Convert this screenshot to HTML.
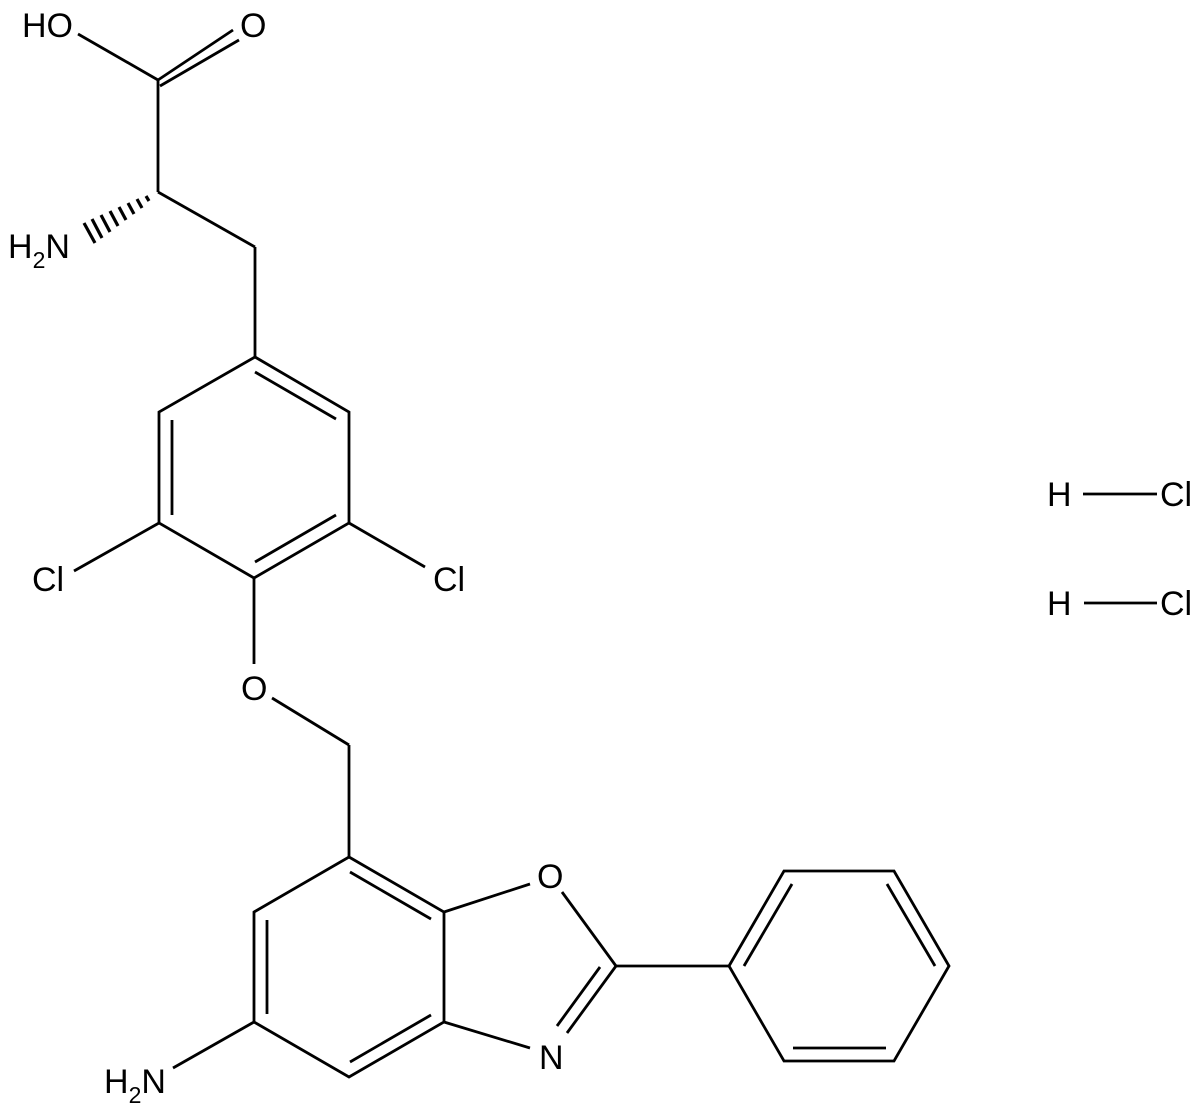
<!DOCTYPE html>
<html><head><style>
html,body{margin:0;padding:0;background:#fff;}
svg{display:block;}
text{font-family:"Liberation Sans",Arial,sans-serif;font-size:34px;fill:#000;}
</style></head><body>
<svg width="1200" height="1106" viewBox="0 0 1200 1106" xmlns="http://www.w3.org/2000/svg">
<g stroke="#000" stroke-width="2.8" fill="none" stroke-linecap="butt">
<line x1="78" y1="34" x2="158" y2="80"/>
<line x1="158" y1="80" x2="233" y2="30"/>
<line x1="160" y1="86" x2="239" y2="40"/>
<line x1="158" y1="80" x2="158" y2="192"/>
<line x1="158" y1="192" x2="255" y2="247"/>
<line x1="255" y1="247" x2="255" y2="357"/>
<polygon points="255,357 349,412 349,523 254,578 159,523 159,412"/>
<line x1="255" y1="372" x2="336" y2="419"/>
<line x1="172" y1="420" x2="172" y2="515"/>
<line x1="255" y1="562" x2="336" y2="515"/>
<line x1="159" y1="523" x2="74" y2="571"/>
<line x1="349" y1="523" x2="425" y2="567"/>
<line x1="254" y1="578" x2="254" y2="664"/>
<line x1="272" y1="698" x2="349" y2="745"/>
<line x1="349" y1="745" x2="349" y2="857"/>
<polygon points="349,857 444,912 444,1022 349,1077 254,1022 254,912"/>
<line x1="350" y1="872" x2="431" y2="919"/>
<line x1="267" y1="920" x2="267" y2="1014"/>
<line x1="350" y1="1062" x2="431" y2="1015"/>
<line x1="444" y1="912" x2="530" y2="884"/>
<line x1="562" y1="892" x2="616" y2="966"/>
<line x1="444" y1="1022" x2="530" y2="1048"/>
<line x1="616" y1="966" x2="567" y2="1033"/>
<line x1="600" y1="967" x2="557" y2="1026"/>
<line x1="616" y1="966" x2="729" y2="966"/>
<line x1="254" y1="1022" x2="173" y2="1068"/>
<polygon points="729,966 784,871 894,871 949,966 894,1061 784,1061"/>
<line x1="744" y1="966" x2="792" y2="884"/>
<line x1="887" y1="884" x2="935" y2="966"/>
<line x1="793" y1="1048" x2="886" y2="1048"/>
<line x1="1083" y1="494" x2="1157" y2="494"/>
<line x1="1084" y1="603" x2="1157" y2="603"/>
</g>
<g stroke="#000" stroke-width="3.2">
<line x1="146" y1="196" x2="149" y2="201"/>
<line x1="137" y1="199" x2="142" y2="208"/>
<line x1="128" y1="203" x2="134" y2="214"/>
<line x1="119" y1="207" x2="126" y2="220"/>
<line x1="110" y1="211" x2="118" y2="226"/>
<line x1="101" y1="215" x2="110" y2="232"/>
<line x1="92" y1="219" x2="102" y2="238"/>
<line x1="84" y1="223" x2="95" y2="243"/>
</g>
<text x="22" y="37">HO</text>
<text x="240" y="37">O</text>
<text x="8" y="258">H<tspan font-size="23" dy="10">2</tspan><tspan dy="-10">N</tspan></text>
<text x="32" y="591">Cl</text>
<text x="433" y="591">Cl</text>
<text x="241" y="700">O</text>
<text x="537" y="888">O</text>
<text x="539" y="1069">N</text>
<text x="104" y="1093">H<tspan font-size="23" dy="10">2</tspan><tspan dy="-10">N</tspan></text>
<text x="1047" y="506">H</text>
<text x="1160" y="506">Cl</text>
<text x="1047" y="615">H</text>
<text x="1160" y="615">Cl</text>
</svg>
</body></html>
